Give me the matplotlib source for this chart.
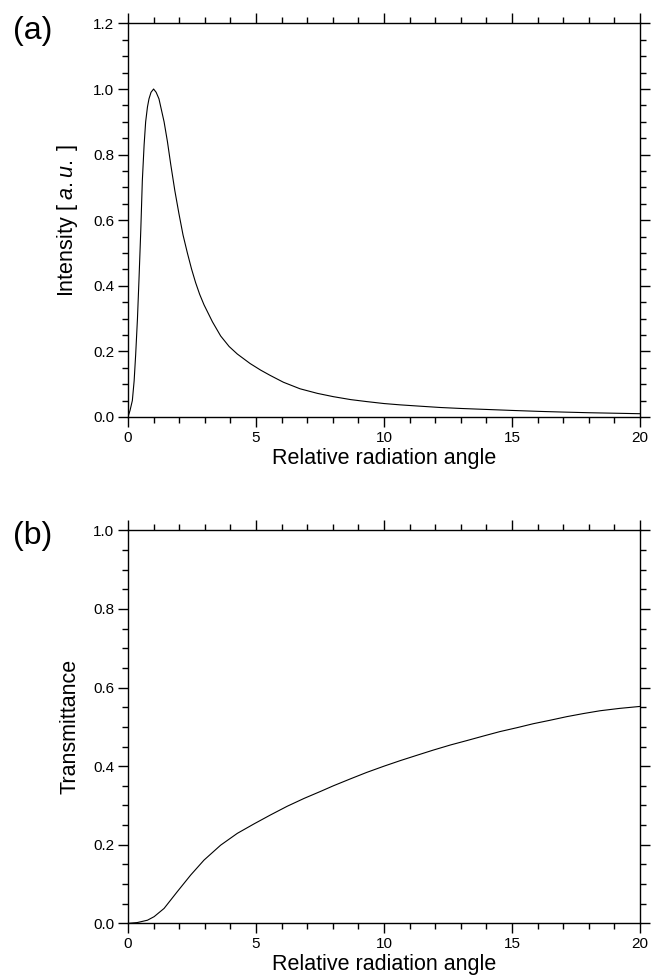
import numpy as np
import matplotlib
matplotlib.use("Agg")
import matplotlib.pyplot as plt
from matplotlib.ticker import MultipleLocator, FormatStrFormatter

plt.rcParams['font.family'] = ['Liberation Sans', 'DejaVu Sans']
plt.rcParams['mathtext.fontset'] = 'custom'
plt.rcParams['mathtext.rm'] = 'Liberation Sans'
plt.rcParams['mathtext.it'] = 'Liberation Sans:italic'

# (a) intensity vs relative radiation angle
angle_a = [0.0, 0.08, 0.17, 0.24, 0.30, 0.37, 0.43, 0.50, 0.56, 0.63, 0.69, 0.76,
           0.82, 0.90, 1.0, 1.10, 1.21, 1.31, 1.41, 1.54, 1.67, 1.83, 1.99, 2.15,
           2.32, 2.48, 2.64, 2.80, 2.97, 3.3, 3.62, 3.95, 4.27, 4.77, 5.18, 5.55,
           6.07, 6.72, 7.4, 8.02, 8.7, 9.32, 10.0, 10.63, 11.4, 12.19, 13.0, 14.0,
           15.0, 16.1, 17.0, 18.0, 19.0, 20.0]
intensity = [0.0, 0.02, 0.05, 0.11, 0.19, 0.30, 0.42, 0.57, 0.72, 0.83, 0.90, 0.945,
             0.97, 0.99, 1.0, 0.99, 0.97, 0.935, 0.90, 0.84, 0.77, 0.69, 0.62, 0.555,
             0.50, 0.452, 0.41, 0.374, 0.342, 0.29, 0.247, 0.215, 0.192, 0.163, 0.143, 0.127,
             0.106, 0.086, 0.072, 0.062, 0.053, 0.047, 0.041, 0.037, 0.033, 0.029, 0.026, 0.023,
             0.020, 0.017, 0.015, 0.013, 0.0115, 0.010]

# (b) transmittance vs relative radiation angle
angle_b = [0.0, 0.36, 0.76, 1.02, 1.41, 1.93, 2.45, 2.97, 3.62, 4.27, 4.92, 5.57,
           6.22, 6.88, 7.53, 8.02, 8.7, 9.32, 10.0, 10.63, 11.3, 11.93, 12.6, 13.23,
           13.9, 14.53, 15.2, 15.83, 16.5, 17.14, 17.8, 18.44, 19.2, 20.0]
transmittance = [0.0, 0.002, 0.008, 0.017, 0.038, 0.081, 0.123, 0.161, 0.199, 0.229, 0.253, 0.276,
                 0.298, 0.318, 0.336, 0.350, 0.368, 0.384, 0.400, 0.414, 0.428, 0.441, 0.454, 0.465,
                 0.477, 0.488, 0.498, 0.508, 0.517, 0.526, 0.534, 0.541, 0.547, 0.552]

x_ticks = [0, 5, 10, 15, 20]
xlabel = "Relative radiation angle"

fig = plt.figure(figsize=(6.52, 9.8), dpi=100)
ax_a = fig.add_axes([0.1963, 0.5745, 0.7853, 0.4016])
ax_b = fig.add_axes([0.1963, 0.0578, 0.7853, 0.4010])


def style_axis(ax, ymax, ylabel):
    ax.set_xlim(0, 20)
    ax.set_ylim(0, ymax)
    ax.set_xticks(x_ticks)
    ax.xaxis.set_minor_locator(MultipleLocator(1))
    ax.yaxis.set_major_locator(MultipleLocator(0.2))
    ax.yaxis.set_minor_locator(MultipleLocator(0.05))
    ax.yaxis.set_major_formatter(FormatStrFormatter('%.1f'))
    ax.tick_params(which='both', direction='out', top=True, right=True,
                   labelsize=11, width=1.0, pad=3)
    ax.tick_params(which='major', length=7)
    ax.tick_params(which='minor', length=4)
    for s in ax.spines.values():
        s.set_linewidth(1.0)
    ax.set_xlabel(xlabel, fontsize=15.5, labelpad=2)
    ax.set_ylabel(ylabel, fontsize=15.5, labelpad=9)


ax_a.plot(angle_a, intensity, color='black', lw=0.8)
style_axis(ax_a, 1.2, r"Intensity [ $\mathit{a.u.}$ ]")

ax_b.plot(angle_b, transmittance, color='black', lw=0.8)
style_axis(ax_b, 1.0, "Transmittance")

fig.text(0.02, 1 - 31 / 980, "(a)", fontsize=23, va='center', ha='left')
fig.text(0.02, 1 - 536 / 980, "(b)", fontsize=23, va='center', ha='left')

fig.savefig("out.png", dpi=100)
